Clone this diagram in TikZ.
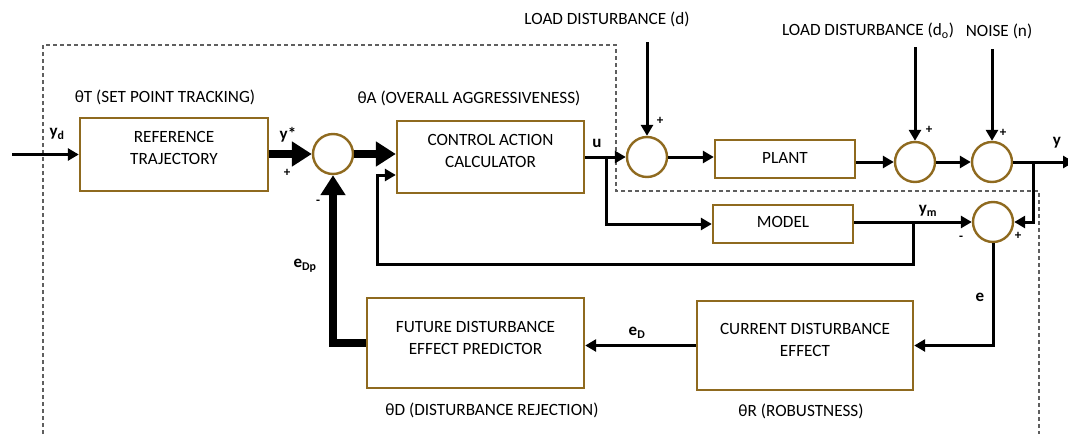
\documentclass[tikz,border=0pt]{standalone}
\usepackage{fontspec}
\setmainfont{Carlito}
\usetikzlibrary{arrows.meta,calc}
\definecolor{boxbrown}{RGB}{143,106,31}
\definecolor{framegray}{RGB}{95,95,95}

\begin{document}
\begin{tikzpicture}[x=1pt,y=-1pt,
  font=\fontsize{17.2}{22}\selectfont,
  blk/.style={draw=boxbrown,line width=2.4pt,fill=white,inner sep=0pt},
  blktext/.style={align=center,inner sep=0pt},
  sumnode/.style={circle,draw=boxbrown,line width=2.4pt,minimum size=40pt,inner sep=0pt,fill=white},
  sig/.style={font=\fontsize{17}{18}\selectfont\bfseries,inner sep=0pt},
  signmark/.style={font=\fontsize{13}{15}\selectfont\bfseries,inner sep=0pt},
  param/.style={inner sep=0pt},
  wire/.style={line width=3pt,-{Triangle[length=11pt,width=12pt]}},
  plainwire/.style={line width=3pt},
  bus/.style={line width=7.5pt,line join=miter,-{Triangle[length=20pt,width=24pt]}},
  loopframe/.style={draw=framegray,line width=1.1pt,dash pattern=on 4pt off 3pt}]

\useasboundingbox (0,0) rectangle (1068,434);

% dashed boundary of the controller
\draw[loopframe] (43,434) -- (43,45) -- (616,45) -- (616,191) -- (1039,191) -- (1039,434);

% blocks
\node[blk,minimum width=188pt,minimum height=73pt] (ref) at (174,154.5) {};
\node[blk,minimum width=187pt,minimum height=72pt] (cac) at (490.5,157) {};
\node[blk,minimum width=140pt,minimum height=38pt] (plant) at (785,159) {};
\node[blk,minimum width=140pt,minimum height=38pt] (model) at (783,224) {};
\node[blk,minimum width=217pt,minimum height=90pt] (fde) at (475.5,343) {};
\node[blk,minimum width=216pt,minimum height=89pt] (cde) at (805,345.5) {};

\node[blktext] (reft) at (174,148) {REFERENCE\\TRAJECTORY};
\node[blktext] (cact) at (490.5,151) {CONTROL ACTION\\CALCULATOR};
\node[blktext] (plantt) at (785,158) {PLANT};
\node[blktext] (modelt) at (783,222) {MODEL};
\node[blktext] (fdet) at (475.5,337.5) {FUTURE DISTURBANCE\\EFFECT PREDICTOR};
\node[blktext] (cdet) at (805,340) {CURRENT DISTURBANCE\\EFFECT};

% summing junctions
\node[sumnode] (s1) at (333,154) {};
\node[sumnode] (s2) at (647,157) {};
\node[sumnode] (s3) at (915,162) {};
\node[sumnode] (s4) at (992,162) {};
\node[sumnode] (s5) at (993,222) {};

% free ends and branch points
\coordinate (yin) at (12,154.5);
\coordinate (ub) at (606,157);
\coordinate (yb) at (1033,162);
\coordinate (yout) at (1074,162);
\coordinate (mb) at (913,222);
\coordinate (fb1) at (913,264);
\coordinate (fb2) at (377,264);
\coordinate (fb3) at (377,175);
\coordinate (din) at (647,42);
\coordinate (doin) at (915,47);
\coordinate (nin) at (992,49);

% forward path
\draw[wire] (yin) -- (ref.west);
\draw[bus] (ref.east |- s1.west) -- (s1.west);
\draw[bus] (s1.east) -- (s1.east -| cac.west);
\draw[wire] (cac.east |- s2.west) -- (s2.west);
\draw[wire] (s2.east) -- (s2.east -| plant.west);
\draw[wire] (plant.east |- s3.west) -- (s3.west);
\draw[wire] (s3.east) -- (s4.west);
\draw[wire] (s4.east) -- (yout);

% disturbances and noise
\draw[wire] (din) -- (s2.north);
\draw[wire] (doin) -- (s3.north);
\draw[wire] (nin) -- (s4.north);

% model branch and error
\draw[wire] (ub) |- (model.west);
\draw[wire] (model.east |- s5.west) -- (s5.west);
\draw[wire] (yb) |- (s5.east);
\draw[wire] (mb) -- (fb1) -- (fb2) -- (fb3) -- (fb3 -| cac.west);

% disturbance feedback
\draw[wire] (s5.south) |- (cde.east);
\draw[wire] (cde.west) -- (cde.west -| fde.east);
\draw[bus] (fde.west) -| (s1.south);

% signal labels
\node[sig] (lyd) at (57,134) {y\textsubscript{d}};
\node[sig] (lys) at (288,135) {y*};
\node[sig] (lu) at (597,143) {u};
\node[sig] (ly) at (1057,143) {y};
\node[sig] (lym) at (928,211) {y\textsubscript{m}};
\node[sig] (le) at (980,297) {e};
\node[sig] (led) at (637,333) {e\textsubscript{D}};
\node[sig] (ledp) at (305,266) {e\textsubscript{Dp}};

% signs at the junctions
\node[signmark] (p1) at (287,173) {+};
\node[signmark] (m1) at (318,202) {-};
\node[signmark] (p2) at (660,121) {+};
\node[signmark] (p3) at (929,130) {+};
\node[signmark] (p4) at (1003,133) {+};
\node[signmark] (m5) at (961,238) {-};
\node[signmark] (p5) at (1018,236) {+};

% tuning parameters and inputs
\node[param] (tT) at (165,97) {θT (SET POINT TRACKING)};
\node[param] (tA) at (469,98) {θA (OVERALL AGGRESSIVENESS)};
\node[param] (tD) at (492,410) {θD (DISTURBANCE REJECTION)};
\node[param] (tR) at (801,411) {θR (ROBUSTNESS)};
\node[param] (ld) at (607,19) {LOAD DISTURBANCE (d)};
\node[param] (ldo) at (868,31) {LOAD DISTURBANCE (d\textsubscript{o})};
\node[param] (nz) at (999,31) {NOISE (n)};
\end{tikzpicture}
\end{document}
